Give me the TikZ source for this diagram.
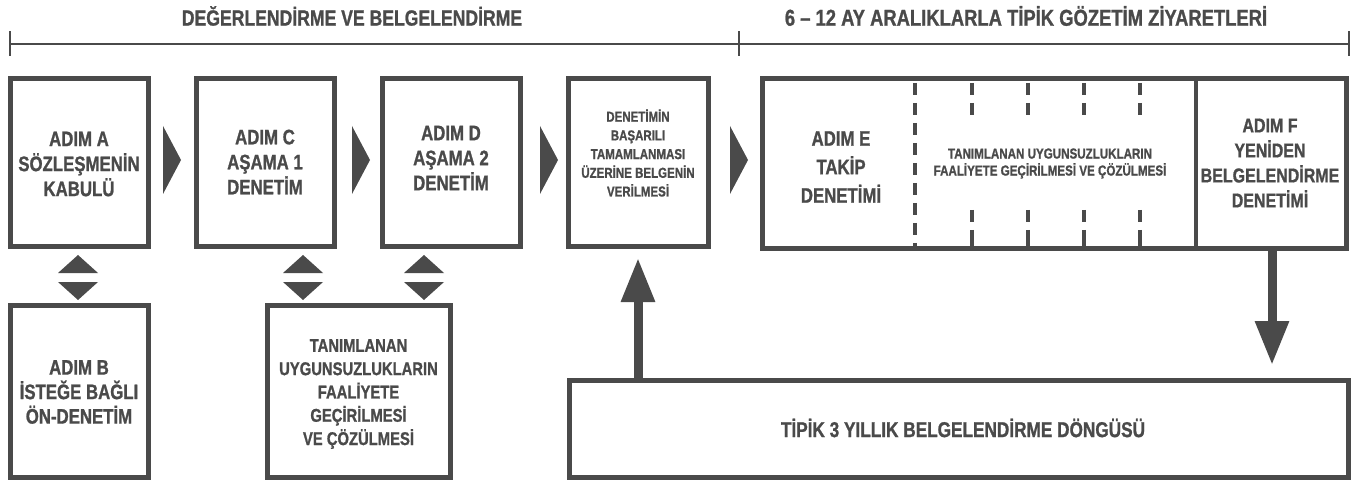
\documentclass[tikz,border=0pt]{standalone}
\usepackage{fontspec}
\setmainfont{Liberation Sans}[FakeStretch=0.8, BoldFeatures={FakeBold=1}]
\usetikzlibrary{arrows.meta}
\definecolor{dg}{HTML}{4A4A4A}
\tikzset{
  box/.style={draw=dg, line width=5pt, fill=white, inner sep=0pt, rectangle},
  txt/.style={text=dg, align=center, inner sep=0pt, font=\bfseries\fontsize{21}{25}\selectfont},
  chev/.style={fill=dg, draw=none},
  divl/.style={draw=dg, line width=4.5pt},
  fatarrow/.style={draw=dg, line width=9pt, -{Triangle[length=44pt,width=32pt]}},
  tick/.style={draw=dg, line width=2pt},
}
\begin{document}
\begin{tikzpicture}[x=1pt,y=-1pt]
\useasboundingbox (0,0) rectangle (1363,481);
% titles
\node[txt, font=\bfseries\fontsize{22}{26}\selectfont] (t1) at (352,16) {DEĞERLENDİRME VE BELGELENDİRME};
\node[txt, font=\bfseries\fontsize{23}{26}\selectfont] (t2) at (1026,16) {6 – 12 AY ARALIKLARLA TİPİK GÖZETİM ZİYARETLERİ};
\coordinate (l0) at (10,44);
\coordinate (l1) at (739,44);
\coordinate (l2) at (1349,44);
\draw[tick] (l0) -- (l2);
\draw[tick] ([yshift=-12pt]l0) -- ([yshift=13pt]l0);
\draw[tick] ([yshift=-12pt]l1) -- ([yshift=13pt]l1);
\draw[tick] ([yshift=-12pt]l2) -- ([yshift=13pt]l2);

% top row boxes
\node[box, minimum width=138pt, minimum height=168pt] (A) at (79,163) {};
\node[box, minimum width=138pt, minimum height=168pt] (C) at (265,163) {};
\node[box, minimum width=138pt, minimum height=168pt] (D) at (451,163) {};
\node[box, minimum width=140pt, minimum height=168pt] (G) at (638,163) {};
\node[box, minimum width=584pt, minimum height=170pt] (E) at (1054,164) {};
\node[txt] at (79,164) {ADIM A\\SÖZLEŞMENİN\\KABULÜ};
\node[txt] at (265,162) {ADIM C\\AŞAMA 1\\DENETİM};
\node[txt] at (451,158) {ADIM D\\AŞAMA 2\\DENETİM};
\node[txt, font=\bfseries\fontsize{14.4}{18.7}\selectfont] at (638,153) {DENETİMİN\\BAŞARILI\\TAMAMLANMASI\\ÜZERİNE BELGENİN\\VERİLMESİ};
\node[txt, font=\bfseries\fontsize{21}{28.5}\selectfont] at (841,167) {ADIM E\\TAKİP\\DENETİMİ};
\node[txt, font=\bfseries\fontsize{14.5}{17}\selectfont] at (1050,163.5) {TANIMLANAN UYGUNSUZLUKLARIN\\FAALİYETE GEÇİRİLMESİ VE ÇÖZÜLMESİ};
\node[txt, font=\bfseries\fontsize{20}{25}\selectfont] at (1270,163) {ADIM F\\YENİDEN\\BELGELENDİRME\\DENETİMİ};

% dividers in E
\draw[divl] (1196,80) -- (1196,248);
\draw[divl, dash pattern=on 12pt off 8pt] (915,83) -- (915,250);
\foreach \x in {972,1028,1084,1140}{
  \draw[divl] (\x,83) -- (\x,95);
  \draw[divl] (\x,103) -- (\x,115);
  \draw[divl] (\x,210) -- (\x,222);
  \draw[divl] (\x,230) -- (\x,248);
}

% chevrons
\foreach \x in {163,352,540,730}{
  \fill[chev] (\x,126) -- (\x+18,160) -- (\x,194) -- cycle;
}

% bottom row
\node[box, minimum width=138pt, minimum height=172pt] (B) at (79,391) {};
\node[box, minimum width=183pt, minimum height=172pt] (T) at (358.5,391) {};
\node[box, minimum width=779pt, minimum height=97pt] (Y) at (958.5,428.5) {};
\node[txt, font=\bfseries\fontsize{21}{24.5}\selectfont] at (79,392) {ADIM B\\İSTEĞE BAĞLI\\ÖN-DENETİM};
\node[txt, font=\bfseries\fontsize{18.5}{23.3}\selectfont] at (358.5,394) {TANIMLANAN\\UYGUNSUZLUKLARIN\\FAALİYETE\\GEÇİRİLMESİ\\VE ÇÖZÜLMESİ};
\node[txt, font=\bfseries\fontsize{21.5}{24}\selectfont] at (963,428) {TİPİK 3 YILLIK BELGELENDİRME DÖNGÜSÜ};

% double arrows
\foreach \x in {78,303,424}{
  \fill[chev] (\x-20,273) -- (\x,255) -- (\x+20,273) -- cycle;
  \fill[chev] (\x-20,282) -- (\x,300) -- (\x+20,282) -- cycle;
}

% big arrows
\coordinate (upend) at (638,258);
\coordinate (downstart) at (1272,250);
\coordinate (downend) at (1272,365);
\draw[fatarrow] (Y.north -| upend) -- (upend);
\draw[fatarrow] (downstart) -- (downend);
\end{tikzpicture}
\end{document}
